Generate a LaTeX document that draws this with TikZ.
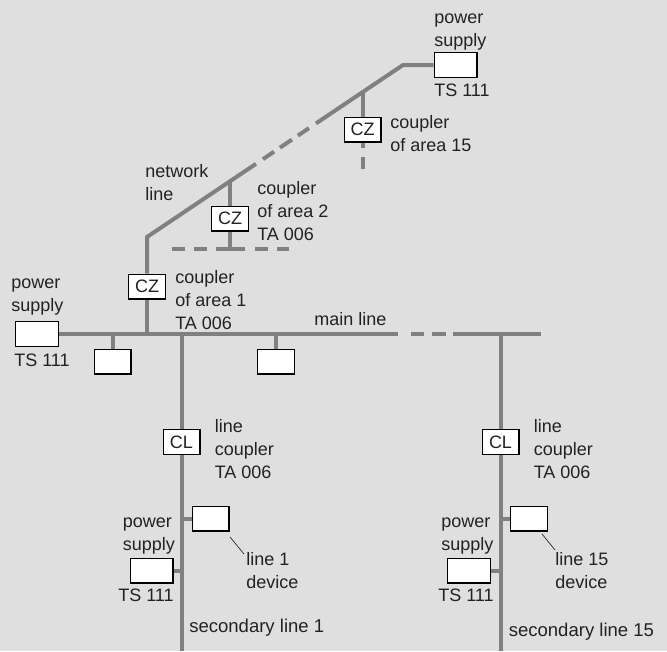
\documentclass[tikz,border=0pt]{standalone}
\usepackage{fontspec}
\setmainfont{Liberation Sans}
\definecolor{bg}{HTML}{DFDFDF}
\definecolor{busgray}{HTML}{808080}
\definecolor{ink}{HTML}{222222}
\tikzset{
  bus/.style={draw=busgray,line width=3pt},
  devbox/.style={draw=black,line width=1pt,fill=white,inner sep=0pt,minimum width=27.5pt,minimum height=18.5pt,text=ink,font=\fontsize{13.5}{16}\selectfont},
  psbox/.style={devbox,minimum width=32pt},
  lbl/.style={anchor=base west,inner sep=0pt,align=left,text=ink,font=\fontsize{13.5}{16.9}\selectfont},
  lblwide/.style={lbl,font=\fontsize{13.9}{16.9}\selectfont},
  lead/.style={draw=ink,line width=0.5pt}
}
\begin{document}
\begin{tikzpicture}[x=0.75pt,y=-0.75pt]
\useasboundingbox (0,0) rectangle (667,651);
\fill[bg] (0,0) rectangle (667,651);
% boxes
\node[psbox] (psL) at (37,334) {};
\node[psbox] (psT) at (455.5,65) {};
\node[devbox] (cz1) at (147,286.5) {CZ};
\node[devbox] (cz2) at (230,218.5) {CZ};
\node[devbox] (cz15) at (362.5,129.5) {CZ};
\node[devbox] (d1) at (112.5,361.5) {};
\node[devbox] (d2) at (276,361.5) {};
\node[devbox] (cl1) at (181.5,442) {CL};
\node[devbox] (cl15) at (500.5,442) {CL};
\node[devbox] (ld1) at (210.5,518.5) {};
\node[devbox] (ld15) at (529,518.5) {};
\node[psbox] (ps1) at (151.5,570.5) {};
\node[psbox] (ps15) at (469,570.5) {};
% key points
\coordinate (mainEnd) at (398,334);
\coordinate (mainR) at (453,334);
\coordinate (mainREnd) at (540.5,334);
\coordinate (j1) at (147,334);
\coordinate (j2) at (181.5,334);
\coordinate (j15) at (500.5,334);
\coordinate (bend) at (147,237);
\coordinate (top) at (403,65);
\coordinate (diagA) at (256,163.8);
\coordinate (diagB) at (316,123.4);
\coordinate (t2) at (230,181);
\coordinate (t15) at (362.5,92.5);
\coordinate (h2) at (230,248.5);
\coordinate (h2L) at (172,248.5);
\coordinate (h2R) at (289.5,248.5);
\coordinate (cz15end) at (362.5,169);
\coordinate (b1) at (181.5,651);
\coordinate (b15) at (500.5,651);
\coordinate (l1a) at (230,537);
\coordinate (l1b) at (244,554);
\coordinate (l15a) at (542,534);
\coordinate (l15b) at (555,550);
% buses
\draw[bus] (psL.east) -- (mainEnd);
\draw[bus,dash pattern=on 0pt off 9.75pt on 9.75pt off 6pt on 10.5pt off 5.25pt] (mainEnd) -- (mainR);
\draw[bus] (mainR) -- (mainREnd);
\draw[bus] (j1) -- (cz1.south);
\draw[bus] (cz1.north) -- (bend) -- (diagA);
\draw[bus,dash pattern=on 0pt off 6.3pt on 10pt off 5.4pt on 10.8pt off 5.4pt on 10pt off 6.3pt] (diagA) -- (diagB);
\draw[bus] (diagB) -- (top) -- (psT.west);
\draw[bus] (t2) -- (cz2.north);
\draw[bus] (cz2.south) -- (h2);
\draw[bus,dash pattern=on 9.75pt off 6.75pt on 9.75pt off 6.75pt on 10.5pt] (h2L) -- (h2);
\draw[bus,dash pattern=on 11.25pt off 7.5pt on 9.75pt off 6.75pt on 9pt] (h2) -- (h2R);
\draw[bus] (t15) -- (cz15.north);
\draw[bus,dash pattern=on 3.75pt off 6.75pt on 9.75pt] (cz15.south) -- (cz15end);
\draw[bus] (d1.north |- j1) -- (d1.north);
\draw[bus] (d2.north |- j1) -- (d2.north);
\draw[bus] (j2) -- (cl1.north);
\draw[bus] (cl1.south) -- (b1);
\draw[bus] (j15) -- (cl15.north);
\draw[bus] (cl15.south) -- (b15);
\draw[bus] (ld1.west) -- (ld1.west -| b1);
\draw[bus] (ps1.east) -- (ps1.east -| b1);
\draw[bus] (ld15.west) -- (ld15.west -| b15);
\draw[bus] (ps15.east) -- (ps15.east -| b15);
\draw[lead] (l1a) -- (l1b);
\draw[lead] (l15a) -- (l15b);
% labels (positions are the baseline of the last line)
\node[lbl] (tPsT) at (434,46) {power\\supply};
\node[lbl] (tTsT) at (434,96) {TS 111};
\node[lbl] (tC15) at (390,151) {coupler\\of area 15};
\node[lbl] (tNet) at (145,200) {network\\line};
\node[lbl] (tC2) at (257,240) {coupler\\of area 2\\TA 006};
\node[lbl] (tC1) at (175,329) {coupler\\of area 1\\TA 006};
\node[lbl] (tPsL) at (11,311) {power\\supply};
\node[lbl] (tTsL) at (14,366) {TS 111};
\node[lbl] (tMain) at (314,325) {main line};
\node[lbl] (tLc1) at (214.5,478) {line\\coupler\\TA 006};
\node[lbl] (tLc15) at (533.5,478) {line\\coupler\\TA 006};
\node[lbl] (tLd1) at (246,588) {line 1\\device};
\node[lbl] (tLd15) at (555,588) {line 15\\device};
\node[lbl] (tPs1) at (122.5,550) {power\\supply};
\node[lbl] (tPs15) at (441,550) {power\\supply};
\node[lbl] (tTs1) at (118,601) {TS 111};
\node[lbl] (tTs15) at (438,601) {TS 111};
\node[lblwide] (tSec1) at (189,632) {secondary line 1};
\node[lblwide] (tSec15) at (508.5,636) {secondary line 15};
\end{tikzpicture}
\end{document}
